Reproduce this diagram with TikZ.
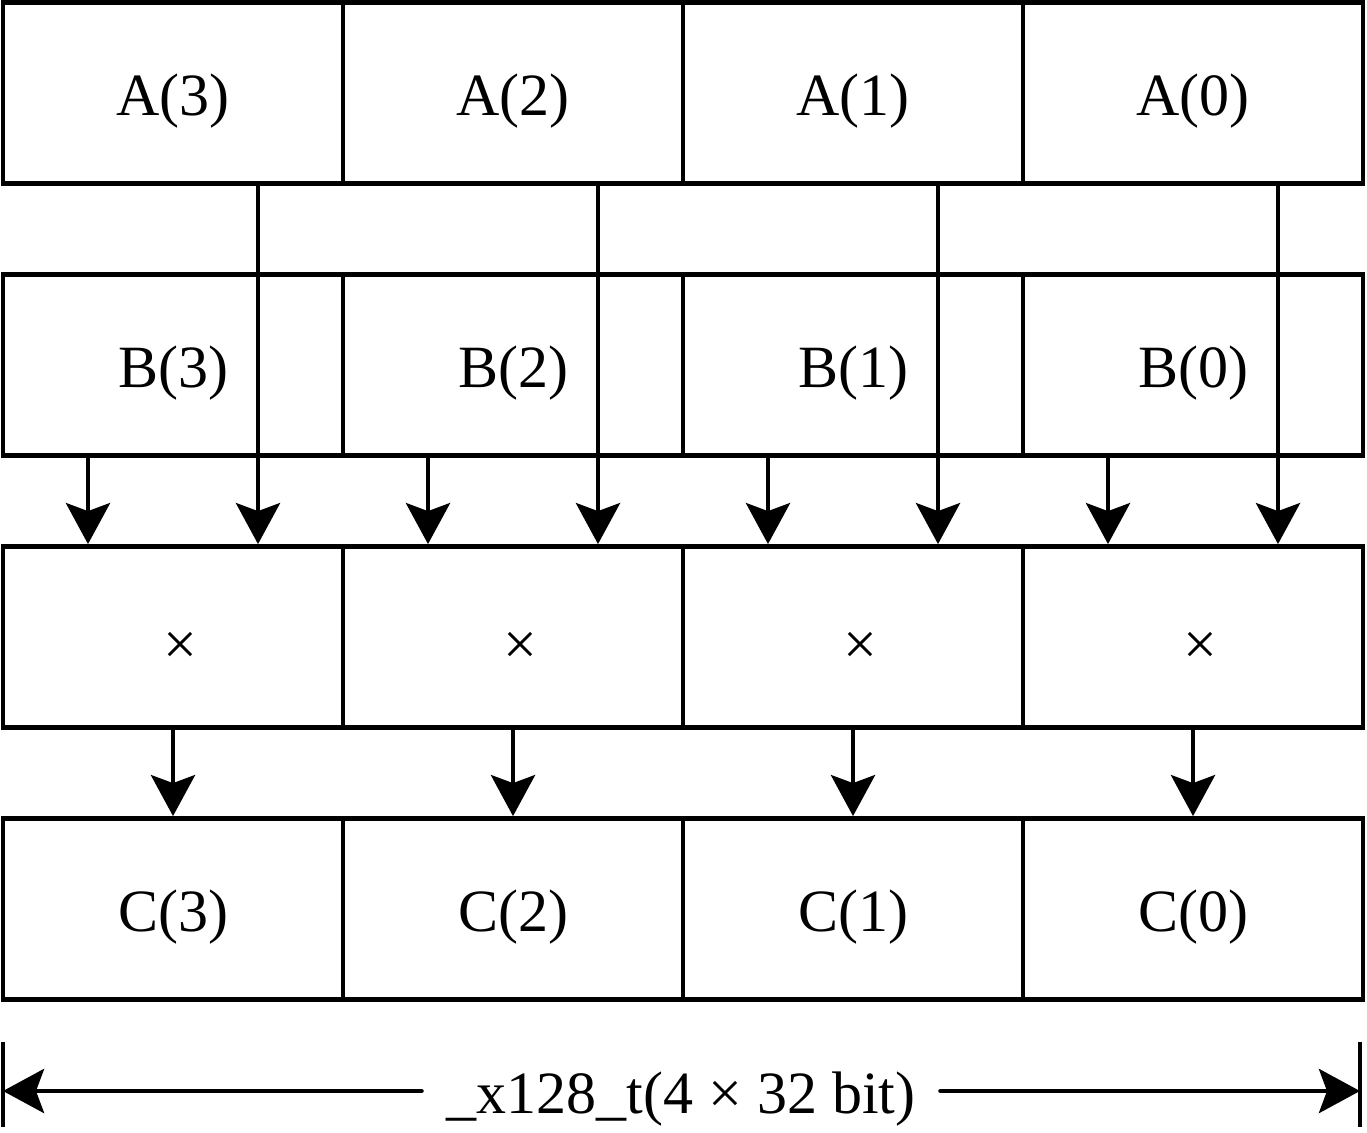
\documentclass[tikz,border=0pt]{standalone}
\usepackage{fontspec}
\setmainfont{Liberation Serif}
\usetikzlibrary{arrows.meta}
\begin{document}
\begin{tikzpicture}[x=1pt,y=-1pt,
  cell/.style={draw, line width=4.8pt, minimum width=340pt, minimum height=181pt,
    inner sep=0pt, font=\fontsize{60}{72}\selectfont, text height=44pt, text depth=0pt},
  flow/.style={line width=4.8pt, -{Stealth[length=41pt,width=44pt,inset=8pt]}},
  bar/.style={line width=4.8pt},
]
\useasboundingbox (0,0) rectangle (1367,1132);
\foreach \i/\x in {3/173,2/513,1/853,0/1193} {
  \node[cell] (A\i) at (\x,93) {A(\i)};
  \node[cell] (B\i) at (\x,365) {B(\i)};
  \node[cell] (X\i) at (\x,637) {\hspace*{14pt}\raisebox{-5pt}{×}};
  \node[cell] (C\i) at (\x,909) {C(\i)};
}
\foreach \i in {0,...,3} {
  \draw[flow] ([xshift=85pt]A\i.south) -- ([xshift=85pt]X\i.north);
  \draw[flow] ([xshift=-85pt]B\i.south) -- ([xshift=-85pt]X\i.north);
  \draw[flow] (X\i.south) -- (C\i.north);
}
\coordinate (L) at (3,1091);
\coordinate (R) at (1360,1091);
\coordinate (Lt) at (3,1042);
\coordinate (Lb) at (3,1127);
\coordinate (Rt) at (1360,1042);
\coordinate (Rb) at (1360,1127);
\draw[bar] (Lt) -- (Lb);
\draw[bar] (Rt) -- (Rb);
\node[font=\fontsize{60}{72}\selectfont, text height=44pt, text depth=0pt,
  inner xsep=25pt, inner ysep=0pt] (dim) at (681,1091) {\_x128\_t(4 × 32 bit)};
\draw[flow, line cap=round] (dim.west) -- (L);
\draw[flow, line cap=round] (dim.east) -- (R);
\end{tikzpicture}
\end{document}
